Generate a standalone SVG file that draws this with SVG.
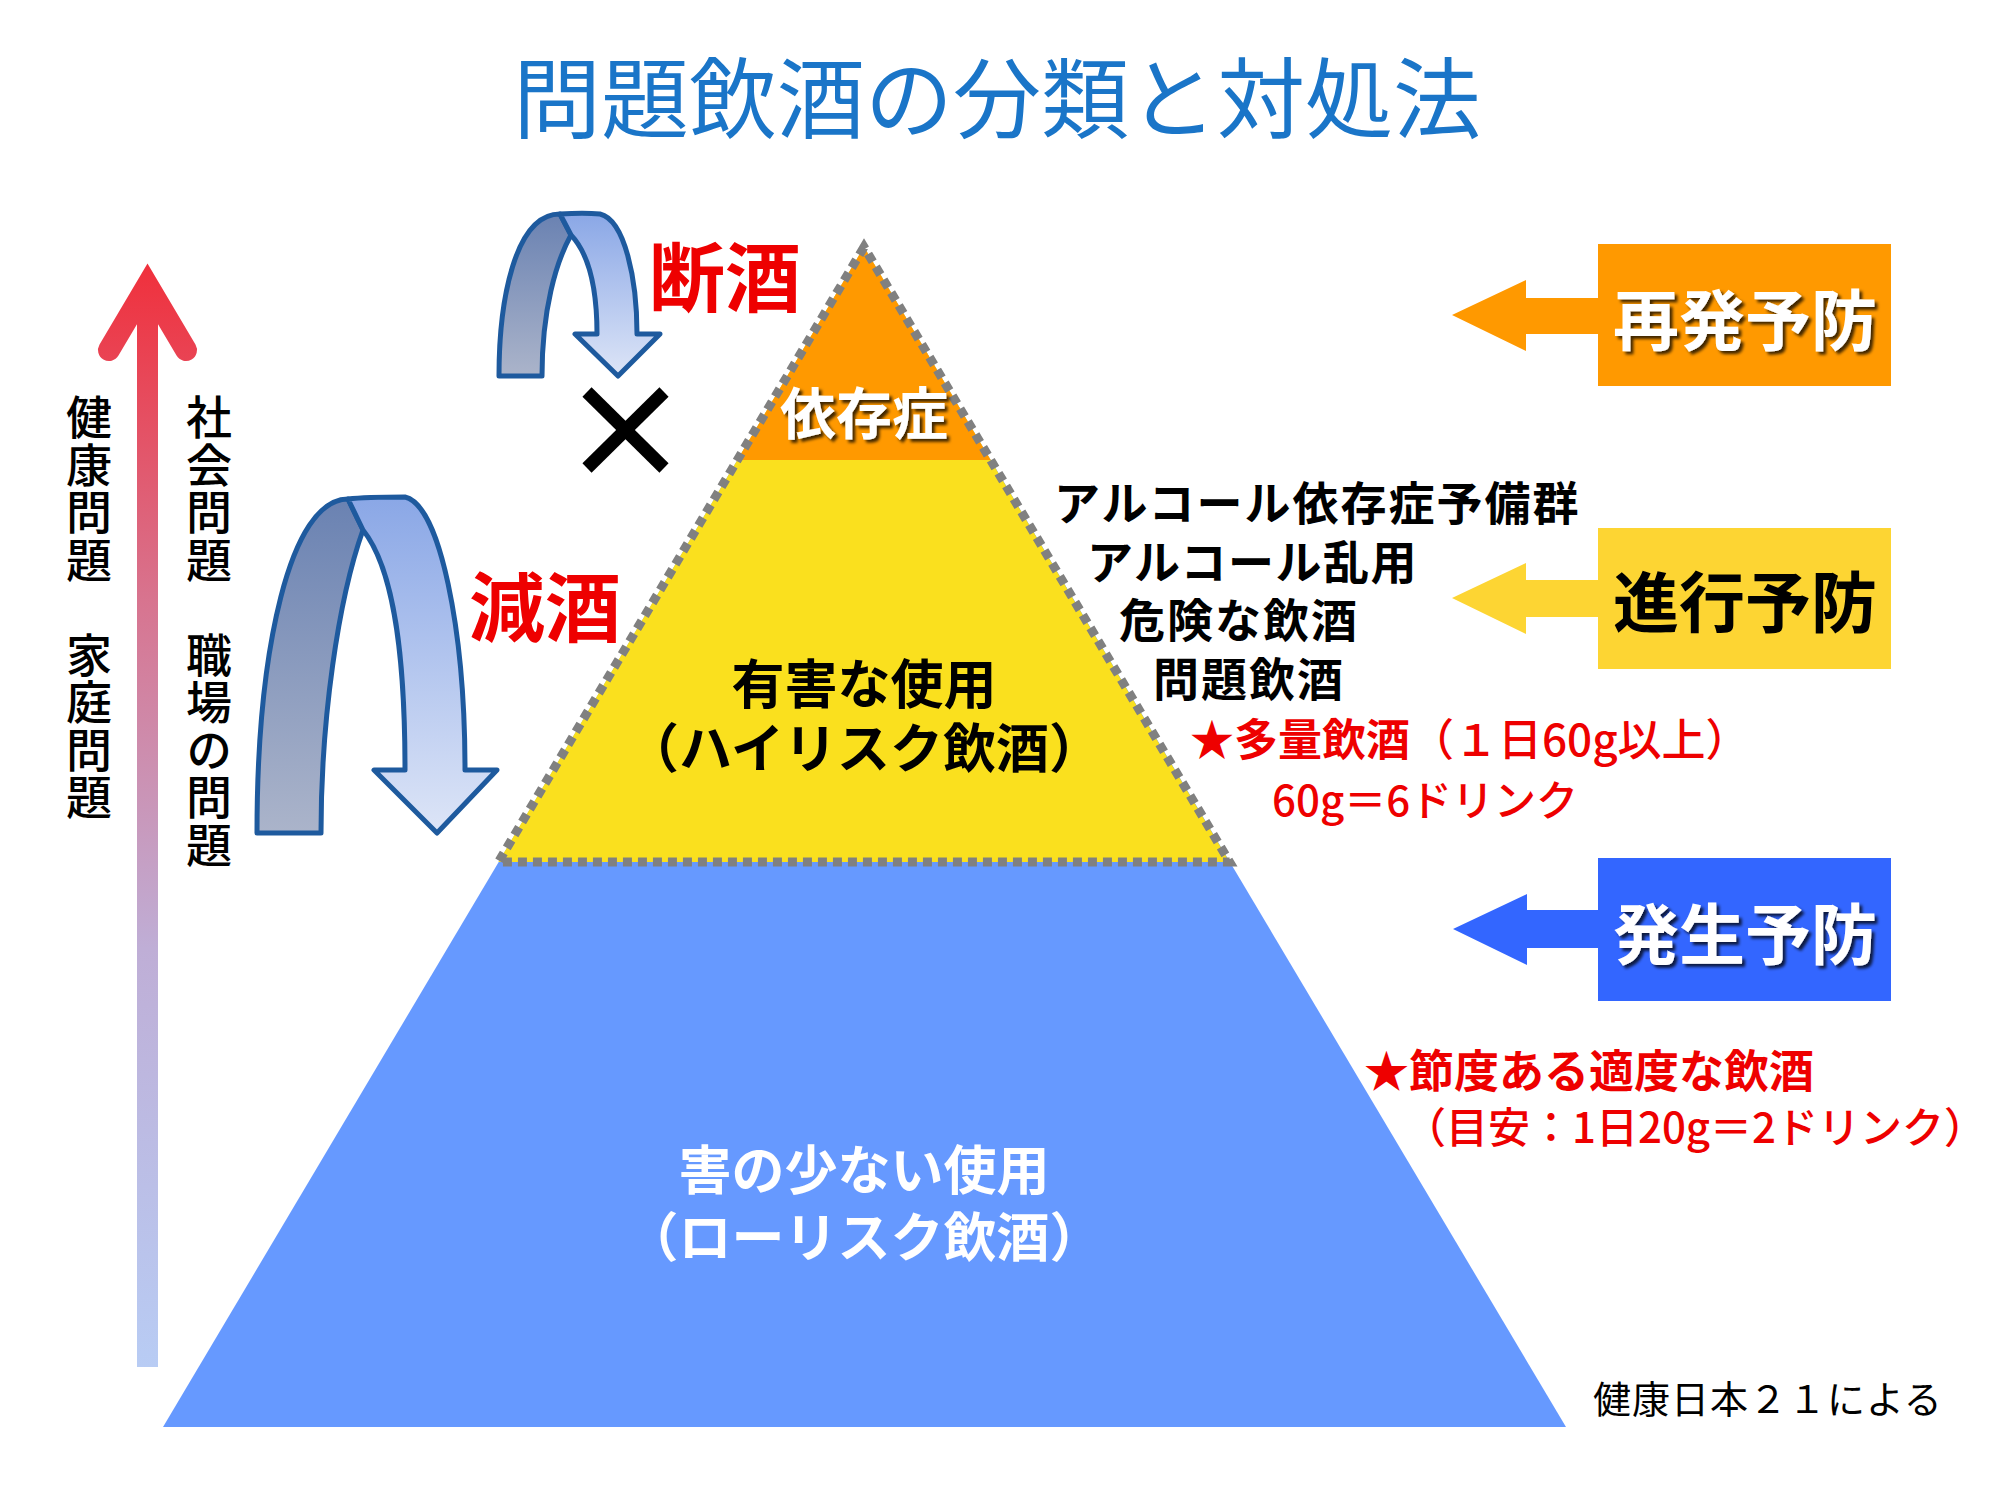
<svg xmlns="http://www.w3.org/2000/svg" width="2000" height="1500" viewBox="0 0 2000 1500">
<style>
text{font-family:"Noto Sans CJK JP","Noto Sans CJK SC",sans-serif;dominant-baseline:central}
.b{font-weight:700}
.m{font-weight:500}
.c{text-anchor:middle}
.red{fill:#EE0000}
.blk{fill:#000}
.wh{fill:#fff}
.uo{stroke:#1E5A9E;stroke-width:5;stroke-linejoin:round}
.vt{writing-mode:vertical-rl;font-size:46px;font-weight:500;letter-spacing:1.5px;dominant-baseline:auto}
</style>
<defs>
<linearGradient id="gUp" gradientUnits="userSpaceOnUse" x1="0" y1="265" x2="0" y2="1367">
<stop offset="0" stop-color="#F0303C"/>
<stop offset="0.3" stop-color="#D8738E"/>
<stop offset="0.62" stop-color="#BFAED6"/>
<stop offset="1" stop-color="#B8CCF4"/>
</linearGradient>
<linearGradient id="gBack" x1="0" y1="0" x2="0" y2="1">
<stop offset="0" stop-color="#6A82B2"/>
<stop offset="1" stop-color="#ABB4CA"/>
</linearGradient>
<linearGradient id="gFront" x1="0" y1="0" x2="0" y2="1">
<stop offset="0" stop-color="#8AA7E6"/>
<stop offset="1" stop-color="#DDE5F7"/>
</linearGradient>
<filter id="sh" x="-10%" y="-20%" width="130%" height="150%">
<feDropShadow dx="3" dy="3" stdDeviation="1.5" flood-color="#000" flood-opacity="0.75"/>
</filter>
</defs>

<rect width="2000" height="1500" fill="#fff"/>

<g id="title">
<text x="997" y="92" class="c" style="font-size:88px;fill:#1A75C8">問題飲酒の分類と対処法</text>
</g>

<g id="pyramid">
<polygon points="864,247 163,1427 1566,1427" fill="#6699FF"/>
<polygon points="864,247 498.4,862 1229.6,862" fill="#FAE01E"/>
<polygon points="864,247 737.4,460 990.6,460" fill="#FF9900"/>
<polygon points="864,247 498.4,862 1229.6,862" fill="none" stroke="#808080" stroke-width="9" stroke-dasharray="9 6"/>
</g>

<g id="node-dependence">
<text x="864" y="409" class="c b wh" style="font-size:56px" filter="url(#sh)">依存症</text>
</g>
<g id="node-harmful">
<text class="c b blk" style="font-size:53px"><tspan x="864" y="681">有害な使用</tspan><tspan x="864" y="745">（ハイリスク飲酒）</tspan></text>
</g>
<g id="node-lowrisk">
<text class="c b wh" style="font-size:53px"><tspan x="864" y="1167">害の少ない使用</tspan><tspan x="864" y="1234">（ローリスク飲酒）</tspan></text>
</g>

<g id="node-abstain">
<text x="725" y="273" class="c b red" style="font-size:76px">断酒</text>
</g>
<g id="node-reduce">
<text x="545" y="603" class="c b red" style="font-size:76px">減酒</text>
</g>
<g id="node-cross">
<line x1="587" y1="392" x2="664" y2="468" stroke="#000" stroke-width="13"/>
<line x1="664" y1="392" x2="587" y2="468" stroke="#000" stroke-width="13"/>
</g>

<g id="node-axis">
<rect x="137" y="300" width="21" height="1067" fill="url(#gUp)"/>
<path d="M109,350 L147.5,285 L186,350" fill="none" stroke="url(#gUp)" stroke-width="22" stroke-linecap="round" stroke-linejoin="miter"/>
<text x="89" y="394" class="vt blk">健康問題　家庭問題</text>
<text x="209" y="394" class="vt blk">社会問題　職場の問題</text>
</g>

<g id="node-labels">
<text class="b blk" style="font-size:46px"><tspan x="1054" y="500" style="letter-spacing:2px">アルコール依存症予備群</tspan><tspan x="1087" y="559" style="letter-spacing:1.5px">アルコール乱用</tspan><tspan x="1119" y="617" style="letter-spacing:2px">危険な飲酒</tspan><tspan x="1153" y="676" style="letter-spacing:2px">問題飲酒</tspan></text>
<text class="red" style="font-size:44px"><tspan x="1190" y="737"><tspan class="b">★多量飲酒</tspan><tspan class="m">（１日60g以上）</tspan></tspan><tspan x="1272" y="797" class="m" style="font-size:42px">60g＝6ドリンク</tspan></text>
<text class="red"><tspan x="1364" y="1068" class="b" style="font-size:45px">★節度ある適度な飲酒</tspan><tspan x="1404" y="1124" class="m" style="font-size:42px">（目安：1日20g＝2ドリンク）</tspan></text>
<text x="1593" y="1396" class="blk" style="font-size:38px;letter-spacing:1px">健康日本２１による</text>
</g>

<g id="node-relapse">
<rect x="1598" y="244" width="293" height="142" fill="#FF9900"/>
<text x="1745" y="316" class="c b wh" style="font-size:66px" filter="url(#sh)">再発予防</text>
</g>
<g id="node-progress">
<rect x="1598" y="528" width="293" height="141" fill="#FDD533"/>
<text x="1745" y="598" class="c b blk" style="font-size:66px">進行予防</text>
</g>
<g id="node-onset">
<rect x="1598" y="858" width="293" height="143" fill="#3366FF"/>
<text x="1745" y="930" class="c b wh" style="font-size:66px" filter="url(#sh)">発生予防</text>
</g>

<g id="connectors">
<polygon points="1452,315 1526,280 1526,298 1599,298 1599,334 1526,334 1526,351" fill="#FF9900"/>
<polygon points="1452,598 1526,563 1526,580 1599,580 1599,617 1526,617 1526,634" fill="#FDD533"/>
<polygon points="1453,929 1527,894 1527,910 1599,910 1599,948 1527,948 1527,965" fill="#3366FF"/>
<g id="uturn-large">
<path class="uo" fill="url(#gBack)" d="M257,833 C257,650 290,499 348,499 L363,530 C338,600 321,720 321,833 Z"/>
<path class="uo" fill="url(#gFront)" d="M348,499 C365,497 390,497 405,497 C440,505 465,630 465,770 L497,770 L437,833 L374,770 L405,770 C405,660 395,570 363,530 Z"/>
</g>
<g id="uturn-small">
<path class="uo" fill="url(#gBack)" d="M499,376 C499,300 515,214 560,214 L571,235 C556,262 542,310 542,376 Z"/>
<path class="uo" fill="url(#gFront)" d="M560,214 C575,213 590,213 600,214 C625,220 637,280 637,334 L660,334 L618,376 L575,334 L597,334 C597,290 590,255 571,235 Z"/>
</g>
</g>
</svg>
